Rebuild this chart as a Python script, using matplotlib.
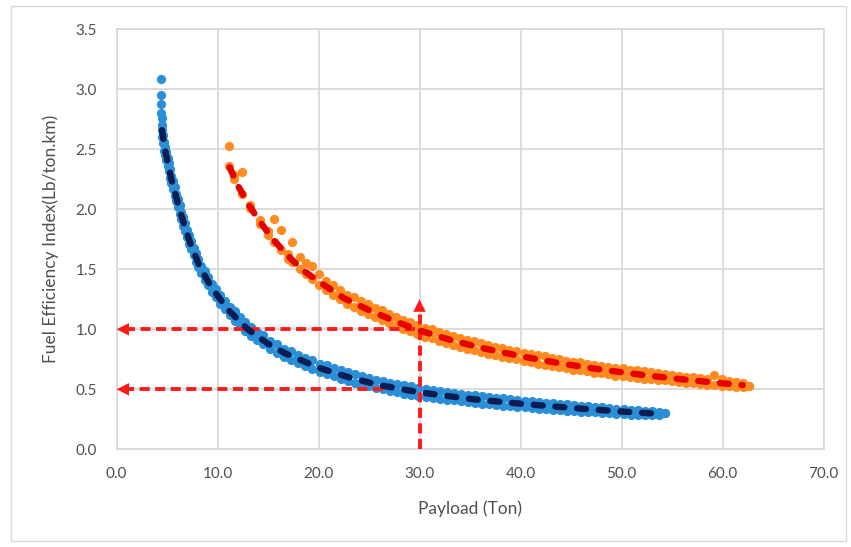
import matplotlib
matplotlib.use("Agg")
import matplotlib.pyplot as plt
from matplotlib.patches import Rectangle

plt.rcParams['font.family'] = ['Lato', 'DejaVu Sans']

# Blue cloud (lower curve): payload, upper and lower edge of the point band
blue_x = [4.40, 4.45, 4.48, 4.55, 4.65, 4.75, 4.85, 4.95, 5.05, 5.18, 5.30, 5.43,
          5.59, 5.75, 5.91, 6.08, 6.24, 6.41, 6.60, 6.79, 6.98, 7.16, 7.39, 7.63,
          7.87, 8.11, 8.37, 8.72, 9.06, 9.44, 9.84, 10.28, 10.74, 11.20, 11.70, 12.20,
          12.70, 13.30, 13.90, 14.50, 15.20, 15.90, 16.60, 17.30, 18.00, 18.70, 19.40, 20.10,
          20.80, 21.50, 22.20, 22.90, 23.60, 24.30, 25.00, 25.70, 26.40, 27.10, 27.80, 28.50,
          29.20, 29.90, 30.60, 31.30, 32.00, 32.70, 33.40, 34.10, 34.80, 35.50, 36.20, 36.90,
          37.60, 38.30, 39.00, 39.70, 40.40, 41.10, 41.80, 42.50, 43.20, 43.90, 44.60, 45.30,
          46.00, 46.70, 47.40, 48.10, 48.80, 49.50, 50.20, 50.90, 51.60, 52.30, 53.00, 53.70,
          54.30]
blue_hi = [3.09, 2.88, 2.76, 2.66, 2.62, 2.56, 2.52, 2.48, 2.43, 2.39, 2.34, 2.28,
           2.24, 2.19, 2.13, 2.09, 2.04, 1.98, 1.94, 1.89, 1.83, 1.79, 1.74, 1.68,
           1.64, 1.59, 1.53, 1.49, 1.44, 1.38, 1.34, 1.29, 1.24, 1.19, 1.15, 1.10,
           1.06, 1.02, 0.98, 0.95, 0.905, 0.88, 0.84, 0.82, 0.79, 0.765, 0.745, 0.715,
           0.70, 0.68, 0.66, 0.645, 0.625, 0.61, 0.595, 0.58, 0.57, 0.555, 0.545, 0.535,
           0.525, 0.51, 0.505, 0.495, 0.49, 0.48, 0.47, 0.465, 0.455, 0.45, 0.445, 0.435,
           0.43, 0.425, 0.42, 0.41, 0.405, 0.40, 0.395, 0.39, 0.385, 0.38, 0.375, 0.37,
           0.365, 0.36, 0.355, 0.35, 0.345, 0.34, 0.335, 0.33, 0.328, 0.322, 0.318, 0.312,
           0.305]
blue_lo = [2.95, 2.80, 2.70, 2.60, 2.55, 2.49, 2.45, 2.41, 2.36, 2.32, 2.26, 2.22,
           2.17, 2.11, 2.07, 2.02, 1.96, 1.92, 1.86, 1.82, 1.77, 1.71, 1.67, 1.62,
           1.56, 1.52, 1.47, 1.41, 1.37, 1.31, 1.27, 1.21, 1.17, 1.12, 1.07, 1.03,
           0.99, 0.945, 0.91, 0.875, 0.835, 0.80, 0.77, 0.745, 0.72, 0.695, 0.67, 0.645,
           0.625, 0.61, 0.59, 0.57, 0.555, 0.54, 0.525, 0.51, 0.50, 0.485, 0.475, 0.465,
           0.455, 0.445, 0.435, 0.43, 0.42, 0.415, 0.41, 0.40, 0.395, 0.385, 0.38, 0.375,
           0.37, 0.365, 0.36, 0.355, 0.35, 0.345, 0.34, 0.335, 0.33, 0.325, 0.32, 0.318,
           0.315, 0.31, 0.307, 0.303, 0.30, 0.297, 0.293, 0.29, 0.288, 0.285, 0.282, 0.282,
           0.302]

# Orange cloud (upper curve)
orange_x = [11.17, 11.60, 12.40, 13.20, 14.20, 15.00, 15.60, 16.30, 17.00, 17.40, 18.20, 18.80,
            19.40, 20.00, 20.70, 21.40, 22.10, 22.80, 23.50, 24.20, 24.90, 25.60, 26.30, 27.00,
            27.70, 28.40, 29.10, 29.80, 30.50, 31.20, 31.90, 32.60, 33.30, 34.00, 34.70, 35.40,
            36.10, 36.80, 37.50, 38.20, 38.90, 39.60, 40.30, 41.00, 41.70, 42.40, 43.10, 43.80,
            44.50, 45.20, 45.90, 46.60, 47.30, 48.00, 48.70, 49.40, 50.10, 50.80, 51.50, 52.20,
            52.90, 53.60, 54.30, 55.00, 55.70, 56.40, 57.10, 57.80, 58.50, 59.20, 59.90, 60.60,
            61.30, 62.00, 62.60]
orange_hi = [2.53, 2.29, 2.31, 2.04, 1.91, 1.82, 1.92, 1.83, 1.63, 1.73, 1.60, 1.55,
             1.53, 1.46, 1.40, 1.37, 1.33, 1.29, 1.27, 1.235, 1.21, 1.18, 1.16, 1.13,
             1.105, 1.08, 1.06, 1.035, 1.015, 1.00, 0.98, 0.965, 0.945, 0.93, 0.915, 0.90,
             0.885, 0.87, 0.855, 0.845, 0.83, 0.82, 0.805, 0.795, 0.785, 0.775, 0.765, 0.755,
             0.74, 0.73, 0.725, 0.715, 0.705, 0.695, 0.69, 0.68, 0.675, 0.665, 0.66, 0.65,
             0.645, 0.635, 0.63, 0.62, 0.615, 0.605, 0.60, 0.595, 0.585, 0.62, 0.59, 0.57,
             0.56, 0.55, 0.53]
orange_lo = [2.36, 2.25, 2.13, 2.01, 1.88, 1.79, 1.73, 1.66, 1.59, 1.56, 1.50, 1.46,
             1.42, 1.37, 1.33, 1.29, 1.25, 1.21, 1.185, 1.155, 1.13, 1.105, 1.08, 1.055,
             1.03, 1.005, 0.985, 0.96, 0.94, 0.925, 0.905, 0.89, 0.87, 0.855, 0.84, 0.825,
             0.81, 0.795, 0.785, 0.77, 0.76, 0.75, 0.735, 0.725, 0.715, 0.705, 0.695, 0.685,
             0.675, 0.665, 0.66, 0.65, 0.64, 0.635, 0.625, 0.615, 0.61, 0.605, 0.595, 0.59,
             0.585, 0.58, 0.575, 0.57, 0.56, 0.555, 0.55, 0.545, 0.54, 0.535, 0.53, 0.527,
             0.522, 0.522, 0.525]

# trend lines
blue_trend_x = [4.5, 4.8, 5.4, 6.3, 7.2, 8.3, 9.2, 10.0, 11.2, 13.0, 15.0, 16.7, 20.0,
                23.0, 26.0, 30.0, 35.0, 40.0, 45.0, 50.0, 53.9]
blue_trend_y = [2.66, 2.50, 2.26, 1.98, 1.74, 1.51, 1.38, 1.28, 1.15, 1.00, 0.88, 0.80, 0.68,
                0.60, 0.535, 0.475, 0.42, 0.38, 0.345, 0.315, 0.295]
orange_trend_x = [11.2, 12.0, 13.0, 14.0, 15.5, 17.0, 18.5, 20.0, 22.5, 25.0, 27.5, 30.0,
                  33.0, 36.0, 40.0, 44.0, 48.0, 52.0, 56.0, 60.0, 62.0]
orange_trend_y = [2.35, 2.20, 2.05, 1.92, 1.75, 1.61, 1.49, 1.40, 1.26, 1.16, 1.07, 0.99,
                  0.913, 0.848, 0.776, 0.715, 0.664, 0.621, 0.583, 0.550, 0.535]

# reference arrows: payload 30 ton, index 1.0 and 0.5
ref_payload = 30.0
ref_top = 1.25
ref_levels = [1.0, 0.5]
ref_starts = [29.6, 26.4]

x_ticks = [0, 10, 20, 30, 40, 50, 60, 70]
y_ticks = [0.0, 0.5, 1.0, 1.5, 2.0, 2.5, 3.0, 3.5]

text_col = '#4f4f4f'
grid_col = '#d9d9d9'
blue = '#2a8fd6'
navy = '#0b1d52'
orange = '#ff8a1f'
red_trend = '#e60000'
red_arrow = '#ff1a1a'
dot = 44

fig = plt.figure(figsize=(8.51, 5.47), dpi=100)
ax = fig.add_axes([0.1369, 0.1786, 0.8308, 0.7678])

ax.scatter(blue_x, blue_hi, s=dot, color=blue, linewidths=0, zorder=3)
ax.scatter(blue_x, blue_lo, s=dot, color=blue, linewidths=0, zorder=3)
ax.scatter(orange_x, orange_hi, s=dot, color=orange, linewidths=0, zorder=3)
ax.scatter(orange_x, orange_lo, s=dot, color=orange, linewidths=0, zorder=3)

# arrows
head = '-|>,head_length=0.9,head_width=0.45'
for lvl, x0 in zip(ref_levels, ref_starts):
    ax.plot([x0, 1.0], [lvl, lvl], color=red_arrow, lw=2.8, dashes=(2.6, 1.4), zorder=4)
    ax.annotate('', xy=(0, lvl), xytext=(1.2, lvl),
                arrowprops=dict(arrowstyle=head, color=red_arrow, lw=0,
                                shrinkA=0, shrinkB=0), zorder=4)
ax.plot([ref_payload, ref_payload], [0, ref_top - 0.08], color=red_arrow, lw=2.8,
        dashes=(2.6, 1.4), zorder=4)
ax.annotate('', xy=(ref_payload, ref_top), xytext=(ref_payload, ref_top - 0.1),
            arrowprops=dict(arrowstyle=head, color=red_arrow, lw=0,
                            shrinkA=0, shrinkB=0), zorder=4)

ax.plot(blue_trend_x, blue_trend_y, color=navy, lw=4.6, dashes=(1.4, 2.0),
        dash_capstyle='round', zorder=5)
ax.plot(orange_trend_x, orange_trend_y, color=red_trend, lw=4.6, dashes=(1.4, 2.0),
        dash_capstyle='round', zorder=5)

ax.set_xlim(0, 70)
ax.set_ylim(0, 3.5)
ax.set_xticks(x_ticks)
ax.set_yticks(y_ticks)
ax.set_xticklabels(['%.1f' % v for v in x_ticks])
ax.set_yticklabels(['%.1f' % v for v in y_ticks])
ax.tick_params(length=0, labelsize=11, colors=text_col)
ax.tick_params(axis='y', pad=14)
ax.tick_params(axis='x', pad=13)
ax.grid(True, color=grid_col, lw=1.3, zorder=0)
ax.set_axisbelow(True)
for s in ax.spines.values():
    s.set_color(grid_col)
    s.set_linewidth(1.3)

ax.set_xlabel('Payload (Ton)', fontsize=12.5, color=text_col, labelpad=14)
ax.set_ylabel('Fuel Efficiency Index(Lb/ton.km)', fontsize=12.5, color=text_col, labelpad=12)

fig.patches.append(Rectangle((11 / 851, 1 - 541 / 547), 835 / 851, 535 / 547,
                             transform=fig.transFigure, fill=False,
                             edgecolor=grid_col, lw=1.0))

fig.savefig('out.png', dpi=100)
